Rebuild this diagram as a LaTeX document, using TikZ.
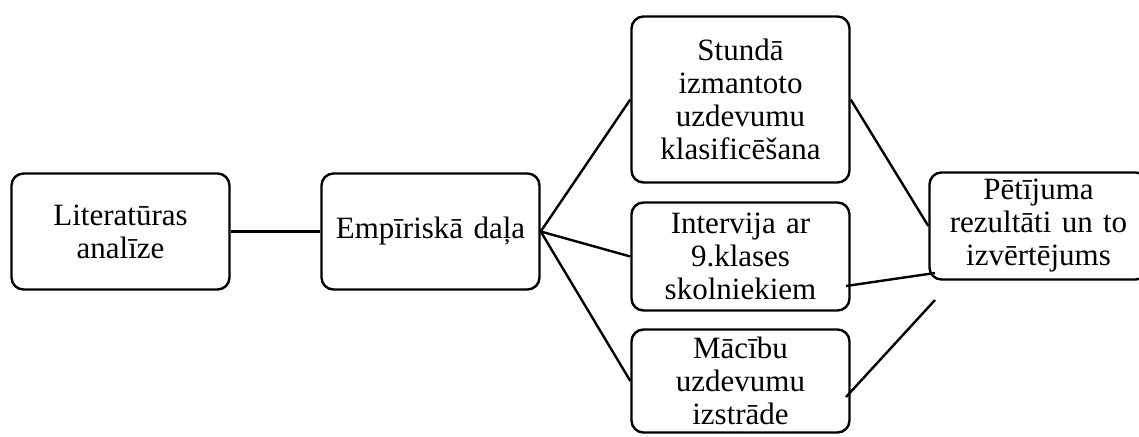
\documentclass[tikz,border=0pt]{standalone}
\usepackage{fontspec}
\setmainfont{Liberation Serif}
\begin{document}
\begin{tikzpicture}[x=1pt,y=1pt,
  box/.style={draw, line width=2.4pt, rounded corners=12pt, inner sep=0pt,
    minimum width=218pt, text width=210pt, align=center,
    font=\fontsize{31}{33}\selectfont},
  conn/.style={line width=2.4pt}]
\useasboundingbox (0,0) rectangle (1139,436);
\clip (0,0) rectangle (1139,436);
\node[box, minimum height=116pt] (lit) at (120.5,204.5) {Literatūras\\analīze};
\node[box, minimum height=116pt] (emp) at (430.5,204.5) {Empīriskā daļa};
\node[box, minimum height=166pt] (stu) at (740.5,336.5) {Stundā\\izmantoto\\uzdevumu\\klasificēšana};
\node[box, minimum height=108pt] (int) at (740.5,179.5) {Intervija ar\\9.klases\\skolniekiem};
\node[box, minimum height=103pt] (mac) at (740.5,55) {Mācību\\uzdevumu\\izstrāde};
\node[box, minimum height=107pt] (pet) at (1038.5,210) {Pētījuma\\rezultāti un to\\izvērtējums};
\coordinate (m1) at (846,150);
\coordinate (m2) at (935,163);
\coordinate (b1) at (846,39);
\coordinate (b2) at (935,136);
\draw[conn] (lit.east) -- (emp.west);
\draw[conn] (emp.east) -- (stu.west);
\draw[conn] (emp.east) -- (int.west);
\draw[conn] (emp.east) -- (mac.west);
\draw[conn] (stu.east) -- (pet.west);
\draw[conn] (m1) -- (m2);
\draw[conn] (b1) -- (b2);
\end{tikzpicture}
\end{document}
